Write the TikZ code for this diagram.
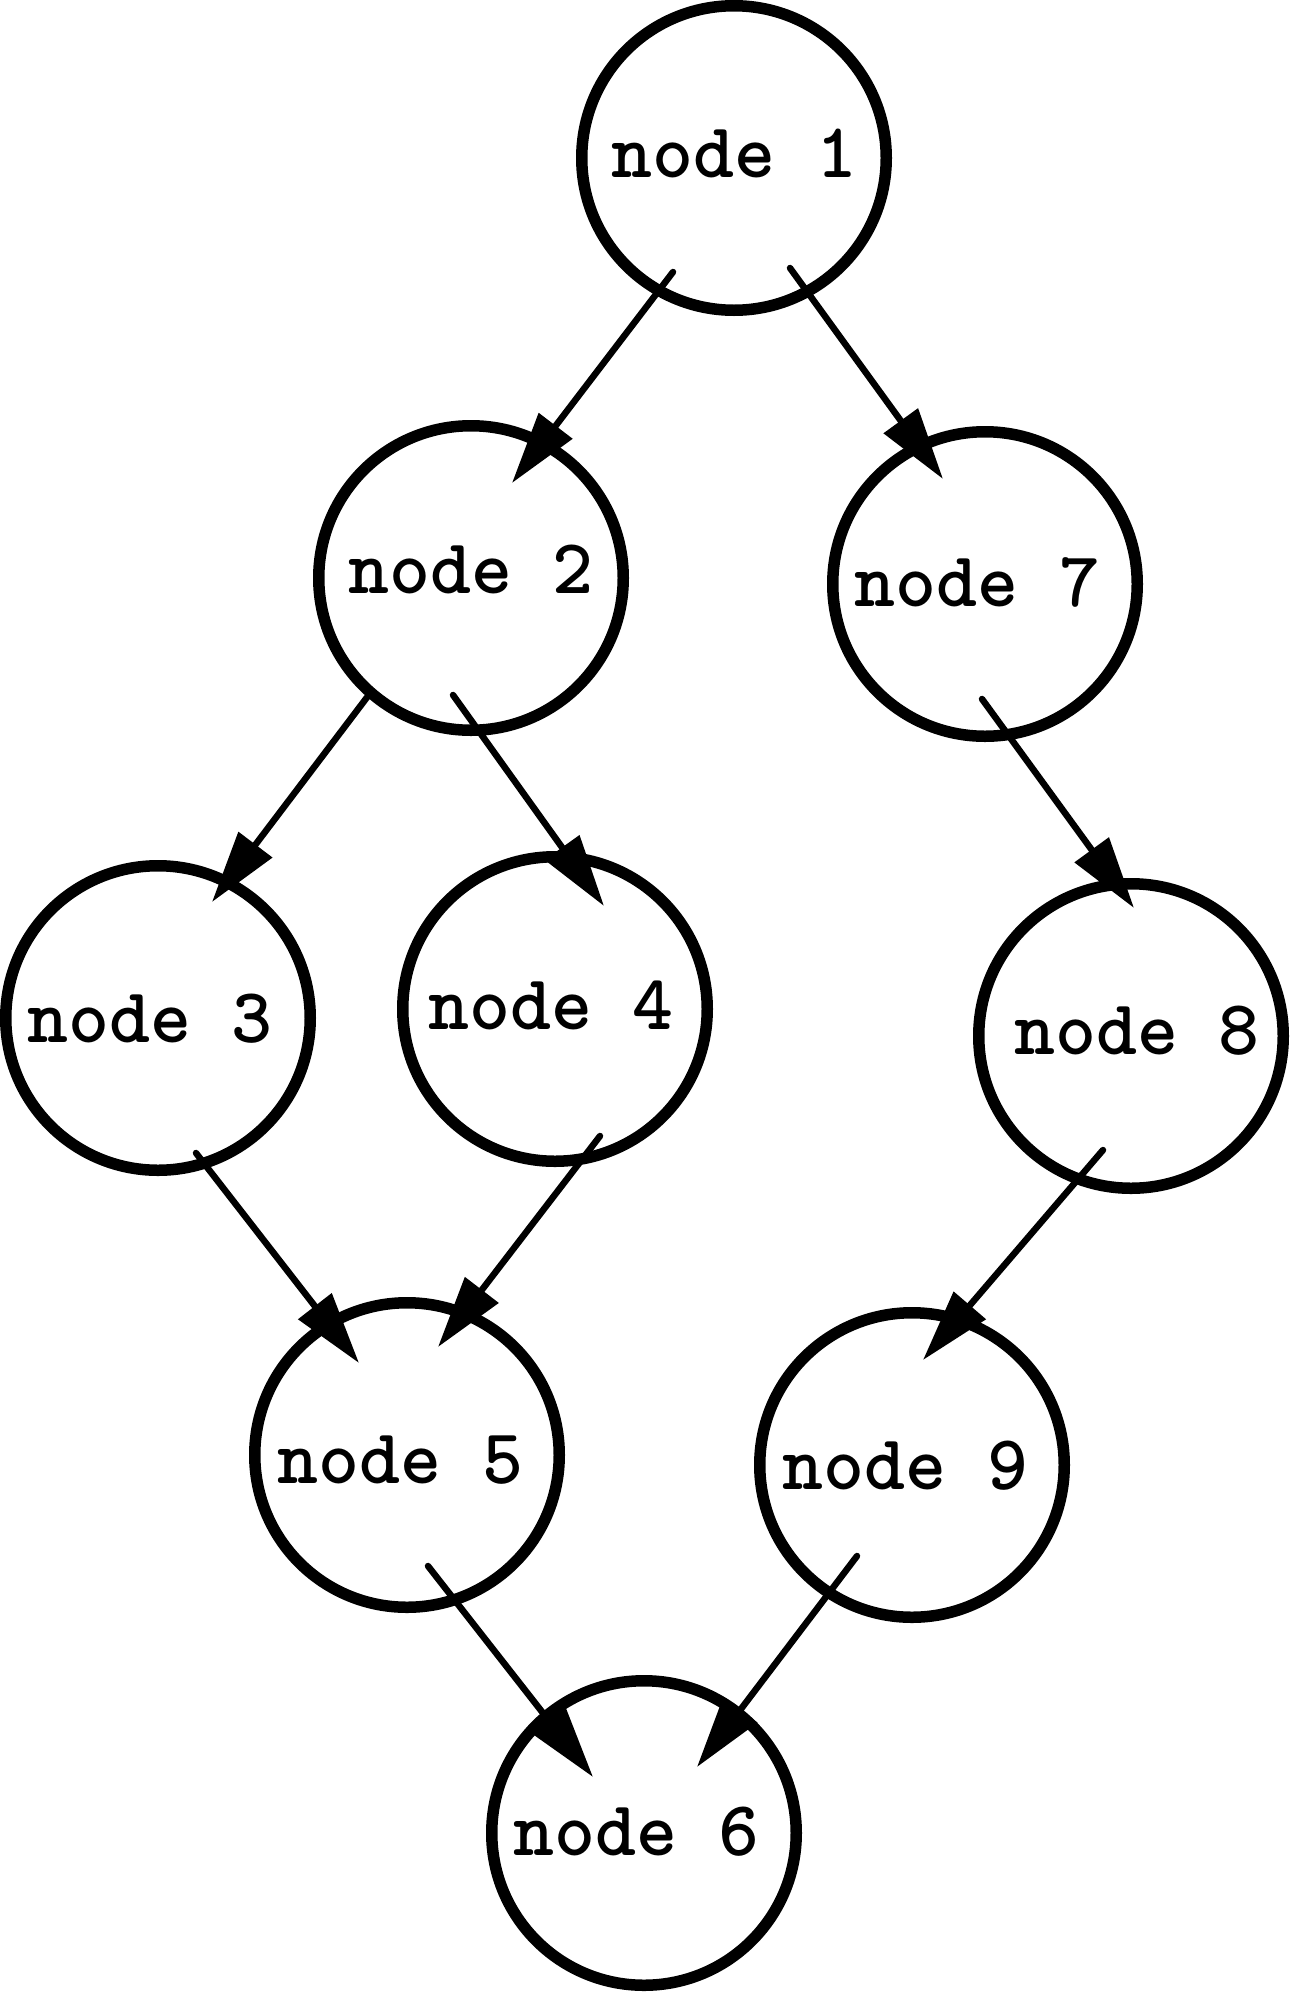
\documentclass[tikz,border=0pt]{standalone}
\usepackage{fontspec}
\usetikzlibrary{arrows.meta,calc}
\begin{document}
\begin{tikzpicture}[x=1pt,y=-1pt,
  gnode/.style={circle,draw,line width=11.5pt,minimum size=304.5pt,inner sep=0pt},
  lbl/.style={anchor=base,inner sep=0pt,font=\fontsize{78}{90}\selectfont\ttfamily\bfseries},
  edge/.style={line width=6.5pt,line cap=round,-{Triangle[length=72pt,width=41pt]}}]
\useasboundingbox (0,0) rectangle (1290,1992);
\node[gnode] (n1) at (734,158)  {};
\node[gnode] (n2) at (471,578)  {};
\node[gnode] (n7) at (985,584)  {};
\node[gnode] (n3) at (158,1018) {};
\node[gnode] (n4) at (555,1009) {};
\node[gnode] (n8) at (1131,1036) {};
\node[gnode] (n5) at (407,1455) {};
\node[gnode] (n9) at (912,1465) {};
\node[gnode] (n6) at (644,1833) {};
\node[lbl] (t1) at ($(n1.center)+(0.5,19)$)  {node 1};
\node[lbl] (t2) at ($(n2.center)+(0,15)$)    {node 2};
\node[lbl] (t7) at ($(n7.center)+(-7.5,22)$) {node 7};
\node[lbl] (t3) at ($(n3.center)+(-8,24)$)   {node 3};
\node[lbl] (t4) at ($(n4.center)+(-4,20)$)   {node 4};
\node[lbl] (t8) at ($(n8.center)+(6,18)$)    {node 8};
\node[lbl] (t5) at ($(n5.center)+(-6.5,28)$) {node 5};
\node[lbl] (t9) at ($(n9.center)+(-6.5,24)$) {node 9};
\node[lbl] (t6) at ($(n6.center)+(-7.5,22)$) {node 6};
\draw[edge] ($(n1.center)+(-61,114)$) -- ($(n2.center)+(41,-95)$);
\draw[edge] ($(n1.center)+(56,110)$) -- ($(n7.center)+(-42,-105)$);
\draw[edge] ($(n2.center)+(-103,118)$) -- ($(n3.center)+(54,-116)$);
\draw[edge] ($(n2.center)+(-18,117)$) -- ($(n4.center)+(49,-103)$);
\draw[edge] ($(n7.center)+(-3,115)$) -- ($(n8.center)+(3,-128)$);
\draw[edge] ($(n3.center)+(38,135)$) -- ($(n5.center)+(-48,-92)$);
\draw[edge] ($(n4.center)+(45,127)$) -- ($(n5.center)+(31,-108)$);
\draw[edge] ($(n8.center)+(-28,114)$) -- ($(n9.center)+(11,-105)$);
\draw[edge] ($(n5.center)+(21,111)$) -- ($(n6.center)+(-51,-56)$);
\draw[edge] ($(n9.center)+(-55,91)$) -- ($(n6.center)+(53,-66)$);
\end{tikzpicture}
\end{document}
